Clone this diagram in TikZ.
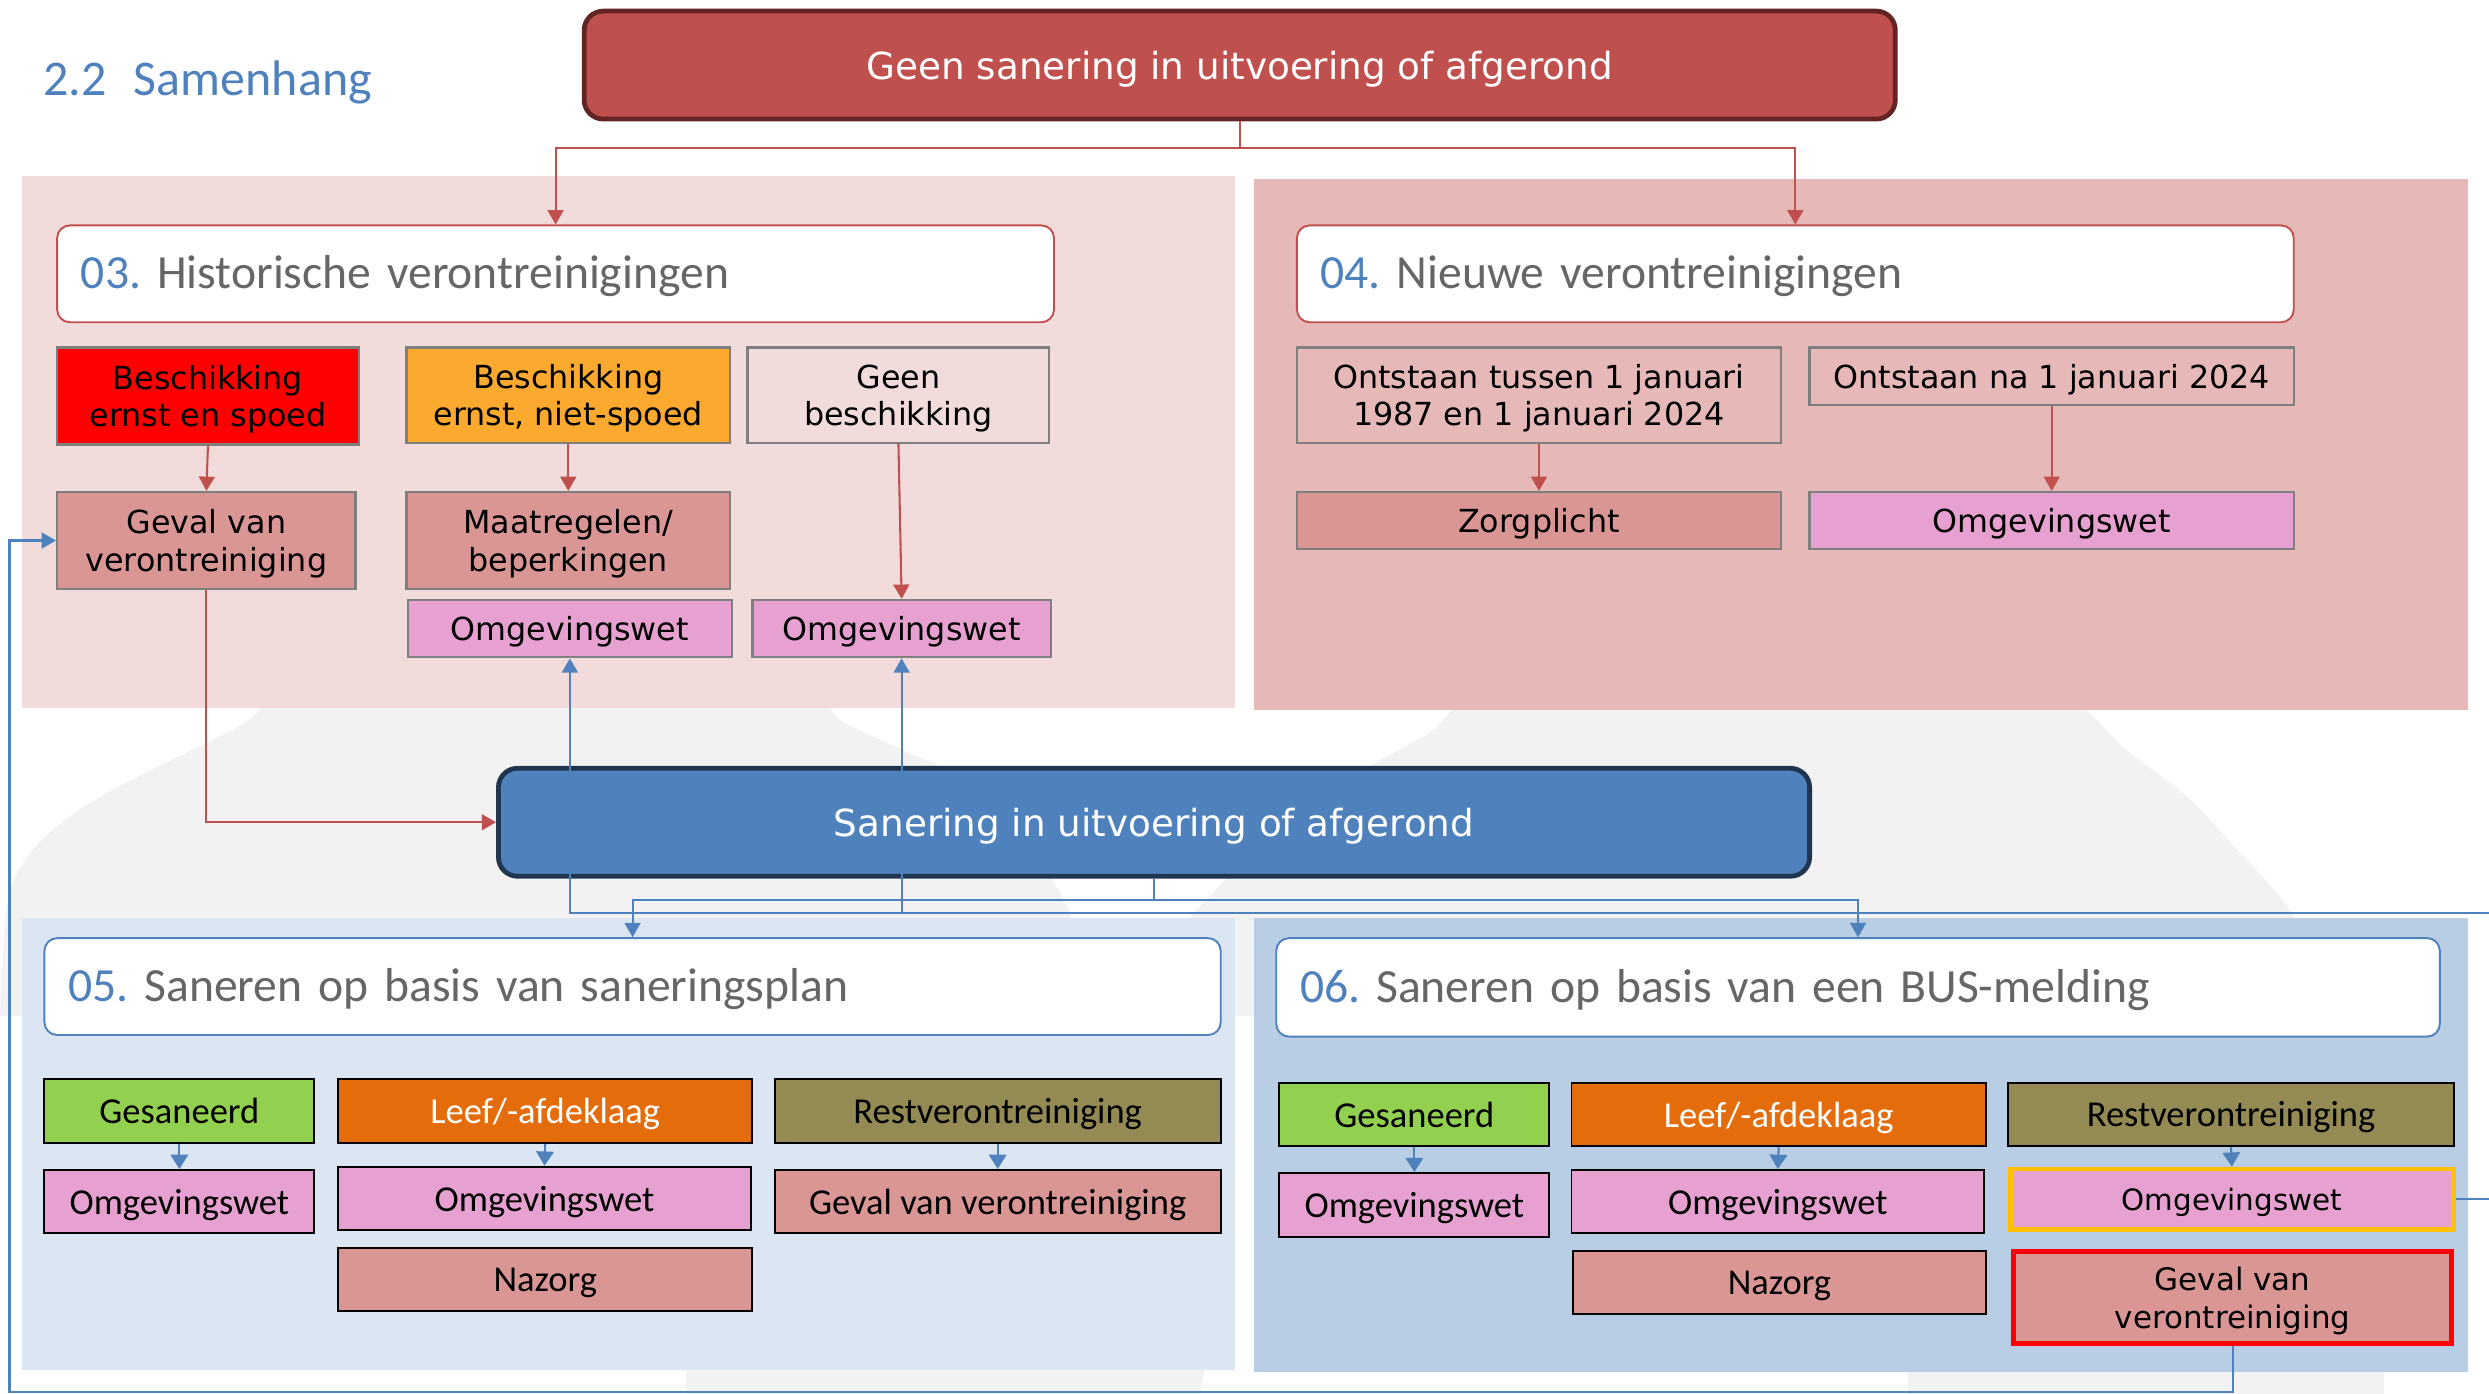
\documentclass[tikz,border=0pt]{standalone}
\usepackage{fontspec}
\setmainfont{DejaVu Sans}
\newfontfamily\carl{Carlito}
\newfontfamily\dvs{DejaVu Sans}
\usetikzlibrary{arrows.meta}
\definecolor{cred}{HTML}{C0504D}
\definecolor{cdred}{HTML}{632523}
\definecolor{cblue}{HTML}{4F81BD}
\definecolor{cnavy}{HTML}{1F3550}
\definecolor{pnlA}{HTML}{F2DCDB}
\definecolor{pnlB}{HTML}{E6B9B8}
\definecolor{pnlC}{HTML}{DCE6F2}
\definecolor{pnlD}{HTML}{B9CDE5}
\definecolor{bggray}{HTML}{F2F2F2}
\definecolor{hgray}{HTML}{666666}
\definecolor{bgray}{HTML}{7F7F7F}
\definecolor{cros}{HTML}{D99694}
\definecolor{cpink}{HTML}{E7A1D1}
\definecolor{corng}{HTML}{FBA92F}
\definecolor{cgreen}{HTML}{92D050}
\definecolor{cleef}{HTML}{E46C0A}
\definecolor{colive}{HTML}{948A54}
\definecolor{cgold}{HTML}{FFC000}
\begin{document}
\frenchspacing
\begin{tikzpicture}[x=1pt,y=-1pt,
  hdr/.style={draw=#1, line width=1.2pt, fill=white, rounded corners=8pt,
    inner xsep=15pt, inner ysep=0pt, align=left, text=hgray, text depth=2pt,
    font=\carl\fontsize{30}{36}\selectfont\frenchspacing},
  tbox/.style={draw=bgray, line width=1.5pt, inner sep=0pt, align=center,
    text depth=0pt, font=\dvs\fontsize{20}{23.5}\selectfont},
  bbox/.style={draw=black, line width=1.2pt, inner sep=0pt, align=center,
    text depth=0pt, font=\carl\fontsize{23}{27}\selectfont},
  bigbox/.style={line width=3pt, rounded corners=12pt, inner sep=0pt,
    text depth=0pt, text=white, font=\dvs\fontsize{23.5}{28}\selectfont},
  rline/.style={draw=cred, line width=1.3pt},
  rarr/.style={rline, -{Triangle[length=9pt,width=10pt]}},
  bline/.style={draw=cblue, line width=1.3pt},
  barr/.style={bline, -{Triangle[length=9pt,width=10pt]}},
  sarr/.style={bline, -{Triangle[length=9pt,width=11pt]}}
]
\useasboundingbox (0,0) rectangle (1568,878);
\clip (0,0) rectangle (1568,878);

% background decoration
\fill[bggray] plot[smooth] coordinates {(0,640) (5,567) (20,536) (50,510) (95,485) (150,458) (200,425) (345,395) (495,425) (530,454) (570,473) (605,490) (640,525) (668,563) (683,600) (690,640)} -- cycle;
\fill[bggray] plot[smooth] coordinates {(740,640) (746,586) (760,567) (790,536) (830,504) (862,483) (900,462) (940,435) (1115,395) (1290,435) (1340,473) (1380,504) (1410,536) (1438,567) (1450,590) (1455,640)} -- cycle;
\fill[bggray] (432,850) -- (761,850) -- (756,878) -- (432,878) -- cycle;
\fill[bggray] (1202,850) rectangle (1502,878);

% panels
\fill[pnlA] (14,111) rectangle (778,446);
\fill[pnlB] (790,113) rectangle (1555,447);
\fill[pnlC] (14,578) rectangle (778,863);
\fill[pnlD] (790,578) rectangle (1555,864);

% title
\node[anchor=base west, text=cblue, inner sep=0pt, font=\carl\fontsize{31.5}{38}\selectfont] (title) at (27,60) {2.2\hspace{0.55em}Samenhang};

% top box
\node[bigbox, draw=cdred, fill=cred, minimum width=826pt, minimum height=68pt] (top) at (781,41) {Geen sanering in uitvoering of afgerond};

% headers
\node[hdr=cred, text width=598pt, minimum height=61pt] (h03) at (350,172.5) {\textcolor{cblue}{03.} Historische verontreinigingen};
\node[hdr=cred, text width=598pt, minimum height=61pt] (h04) at (1131,172.5) {\textcolor{cblue}{04.} Nieuwe verontreinigingen};

% section 03 boxes
\node[tbox, fill=red, minimum width=190pt, minimum height=61pt] (b1) at (131,249.5) {Beschikking\\ernst en spoed};
\node[tbox, fill=corng, minimum width=204pt, minimum height=60pt] (b2) at (358,249) {Beschikking\\ernst, niet-spoed};
\node[tbox, fill=pnlA, minimum width=190pt, minimum height=60pt] (b3) at (566,249) {Geen\\beschikking};
\node[tbox, fill=cros, minimum width=188pt, minimum height=61pt] (g1) at (130,340.5) {Geval van\\verontreiniging};
\node[tbox, fill=cros, minimum width=204pt, minimum height=61pt] (m1) at (358,340.5) {Maatregelen/\\beperkingen};
\node[tbox, fill=cpink, minimum width=204pt, minimum height=36pt] (o1) at (359,396) {Omgevingswet};
\node[tbox, fill=cpink, minimum width=188pt, minimum height=36pt] (o2) at (568,396) {Omgevingswet};

% section 04 boxes
\node[tbox, fill=pnlB, minimum width=305pt, minimum height=60pt] (n1) at (969.5,249) {Ontstaan tussen 1 januari\\1987 en 1 januari 2024};
\node[tbox, fill=pnlB, minimum width=305pt, minimum height=36pt] (n2) at (1292.5,237) {Ontstaan na 1 januari 2024};
\node[tbox, fill=cros, minimum width=305pt, minimum height=36pt] (z1) at (969.5,328) {Zorgplicht};
\node[tbox, fill=cpink, minimum width=305pt, minimum height=36pt] (o3) at (1292.5,328) {Omgevingswet};

% blue box
\node[bigbox, draw=cnavy, fill=cblue, minimum width=826pt, minimum height=68pt] (blue) at (727,518) {Sanering in uitvoering of afgerond};

% headers 05 06
\node[hdr=cblue, text width=711pt, minimum height=61pt] (h05) at (398.5,621.5) {\textcolor{cblue}{05.} Saneren op basis van saneringsplan};
\node[hdr=cblue, text width=703pt, minimum height=62pt] (h06) at (1170.5,622) {\textcolor{cblue}{06.} Saneren op basis van een BUS-melding};

% section 05 boxes
\node[bbox, fill=cgreen, minimum width=170pt, minimum height=40pt] (s1) at (113,700) {Gesaneerd};
\node[bbox, fill=cleef, text=white, minimum width=261pt, minimum height=40pt] (l1) at (343.5,700) {Leef/-afdeklaag};
\node[bbox, fill=colive, minimum width=281pt, minimum height=40pt] (r1) at (628.5,700) {Restverontreiniging};
\node[bbox, fill=cpink, minimum width=170pt, minimum height=40pt] (o4) at (113,757) {Omgevingswet};
\node[bbox, fill=cpink, minimum width=260pt, minimum height=40pt] (o5) at (343,755) {Omgevingswet};
\node[bbox, fill=cros, minimum width=281pt, minimum height=40pt] (gv1) at (628.5,757) {Geval van verontreiniging};
\node[bbox, fill=cros, minimum width=261pt, minimum height=40pt] (nz1) at (343.5,806) {Nazorg};

% section 06 boxes
\node[bbox, fill=cgreen, minimum width=170pt, minimum height=40pt] (s2) at (891,702) {Gesaneerd};
\node[bbox, fill=cleef, text=white, minimum width=261pt, minimum height=40pt] (l2) at (1120.5,702) {Leef/-afdeklaag};
\node[bbox, fill=colive, minimum width=281pt, minimum height=40pt] (r2) at (1405.5,702) {Restverontreiniging};
\node[bbox, fill=cpink, minimum width=170pt, minimum height=40pt] (o6) at (891,759) {Omgevingswet};
\node[bbox, fill=cpink, minimum width=260pt, minimum height=40pt] (o7) at (1120,757) {Omgevingswet};
\node[bbox, draw=cgold, line width=3pt, fill=cpink, minimum width=279pt, minimum height=38pt, font=\dvs\fontsize{18.5}{22}\selectfont] (o8) at (1406,755.5) {Omgevingswet};
\node[bbox, fill=cros, minimum width=260pt, minimum height=40pt] (nz2) at (1121,808) {Nazorg};
\node[bbox, draw=red, line width=3pt, fill=cros, minimum width=276pt, minimum height=58pt, font=\dvs\fontsize{19.5}{23.5}\selectfont] (gv2) at (1406.5,817.5) {Geval van\\verontreiniging};

% red connectors
\coordinate (ra) at (781,93);
\draw[rline] (top.south) -- (ra);
\draw[rarr] (ra) -| (h03.north);
\draw[rarr] (ra) -| (h04.north);
\draw[rarr] (b1.south) -- (g1.north);
\draw[rarr] (b2.south) -- (m1.north);
\draw[rarr] (b3.south) -- (o2.north);
\draw[rarr] (n1.south) -- (z1.north);
\draw[rarr] (n2.south) -- (o3.north);
\draw[rarr] (g1.south) |- (blue.west);

% blue connectors
\coordinate (jb) at (727,567);
\draw[bline] (blue.south) -- (jb);
\draw[barr] (jb) -| (h05.north);
\draw[barr] (jb) -| (h06.north);

\coordinate (ja) at (568,575);
\coordinate (jg) at (1590,755.5);
\coordinate (jr) at (1590,575);
\draw[barr] (o8.east) -- (jg) -- (jr) -- (ja) -- (o2.south);
\draw[barr] (ja) -| (o1.south);

\coordinate (kb) at (1406.5,877);
\coordinate (kl) at (6,877);
\draw[barr] (gv2.south) -- (kb) -- (kl) |- (g1.west);

% small arrows
\draw[sarr] (s1.south) -- (o4.north);
\draw[sarr] (l1.south) -- (o5.north);
\draw[sarr] (r1.south) -- (gv1.north);
\draw[sarr] (s2.south) -- (o6.north);
\draw[sarr] (l2.south) -- (o7.north);
\draw[sarr] (r2.south) -- (o8.north);
\end{tikzpicture}
\end{document}
